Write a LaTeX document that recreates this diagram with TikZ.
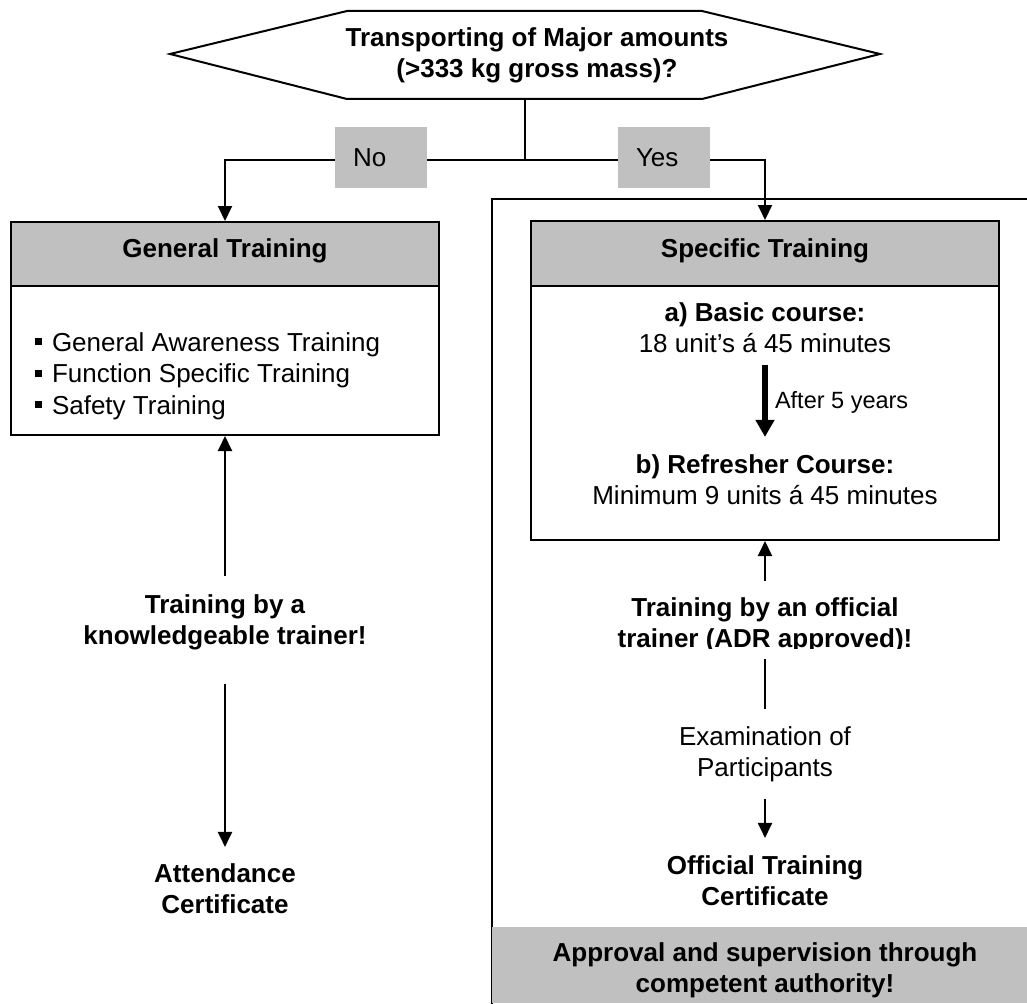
\documentclass[tikz,border=0pt]{standalone}
\usepackage{fontspec}
\setmainfont{Liberation Sans}
\usetikzlibrary{arrows.meta}
\definecolor{hdrgray}{RGB}{192,192,192}
\newcommand\sqbul{\raisebox{6pt}{\rule{7pt}{7pt}}\hspace{10pt}}
\begin{document}
\begin{tikzpicture}[x=1pt,y=-1pt,line width=2pt,
  txt/.style={font=\fontsize{26}{31}\selectfont, inner sep=0pt, align=center},
  btxt/.style={font=\fontsize{26}{31}\selectfont\bfseries, inner sep=0pt, align=center},
  hdrbox/.style={draw, fill=hdrgray, line width=2pt, inner sep=0pt, text height=19pt, text depth=12pt,
     font=\fontsize{26}{31}\selectfont\bfseries},
  bodybox/.style={draw, line width=2pt, inner sep=0pt},
  lbl/.style={fill=hdrgray, inner sep=0pt, minimum width=92pt, minimum height=61pt,
     text width=56pt, align=left, font=\fontsize{26}{31}\selectfont},
  arr/.style={-{Triangle[length=15pt,width=14pt]}, line width=2pt},
  thickarr/.style={-{Triangle[length=17pt,width=18pt]}, line width=6pt}]
\clip (0,0) rectangle (1027,1003);
\fill[white] (0,0) rectangle (1027,1003);

% decision hexagon
\draw[line width=2pt, line join=miter] (170,54) -- (347,11) -- (702,11) -- (880,54) -- (702,99) -- (347,99) -- cycle;
\node[btxt] (q) at (537,55.5) {Transporting of Major amounts\\(>333 kg gross mass)?};
\coordinate (qb) at (525,99);
\coordinate (j) at (525,160);

% outer frame of specific branch
\draw[line width=2pt] (1040,199) -- (492,199) -- (492,1010);

% General training
\node[hdrbox, minimum width=428pt, minimum height=64pt] (gth) at (225,254) {General Training};
\node[bodybox, minimum width=428pt, minimum height=149pt] (gtb) at (225,360.5) {};
\node[font=\fontsize{26}{31.5}\selectfont, inner sep=0pt, align=left, anchor=west] (gtl) at (34,376)
  {\sqbul General Awareness Training\\\sqbul Function Specific Training\\\sqbul Safety Training};
\node[btxt] (gtr) at (225,622.5) {Training by a\\knowledgeable trainer!};
\node[btxt] (att) at (225,889) {Attendance\\Certificate};

% Specific training
\node[hdrbox, minimum width=468pt, minimum height=65pt] (sth) at (765,253.5) {Specific Training};
\node[bodybox, minimum width=468pt, minimum height=254pt] (stb) at (765,413) {};
\node[txt] (sb1) at (765,328) {\textbf{a) Basic course:}\\18 unit’s á 45 minutes};
\node[txt] (sb2) at (765,480) {\textbf{b) Refresher Course:}\\Minimum 9 units á 45 minutes};
\node[font=\fontsize{23.5}{28}\selectfont, inner sep=0pt, anchor=west] (after) at (774,402) {After 5 years};
\begin{scope}
\clip (560,585) rectangle (980,648);
\node[btxt] (adr) at (765,625.5) {Training by an official\\trainer (ADR approved)!};
\end{scope}
\node[txt] (exam) at (765,754.5) {Examination of\\Participants};
\node[btxt] (off) at (765,881) {Official Training\\Certificate};
\node[fill=hdrgray, inner sep=0pt, minimum width=546pt, minimum height=76pt] (apbox) at (765,965) {};
\node[btxt] (ap) at (765,970.5) {Approval and supervision through\\competent authority!};

% connectors
\draw (qb) -- (j);
\draw[arr] (j) -| (gth.north);
\draw[arr] (j) -| (sth.north);
\node[lbl] (no) at (381,157.5) {No};
\node[lbl] (yes) at (664,157.5) {Yes};

\draw[arr, shorten <=18pt] (gtr.north) -- (gtb.south);
\draw[arr, shorten <=33pt, shorten >=16pt] (gtr.south) -- (att.north);

\draw[thickarr, shorten <=11pt, shorten >=17pt] (sb1.south) -- (sb2.north);
\draw[arr, shorten <=16pt] (adr.north) -- (stb.south);
\draw[shorten <=5pt, shorten >=17pt] (adr.south) -- (exam.north);
\draw[arr, shorten <=16pt, shorten >=17pt] (exam.south) -- (off.north);
\end{tikzpicture}
\end{document}
